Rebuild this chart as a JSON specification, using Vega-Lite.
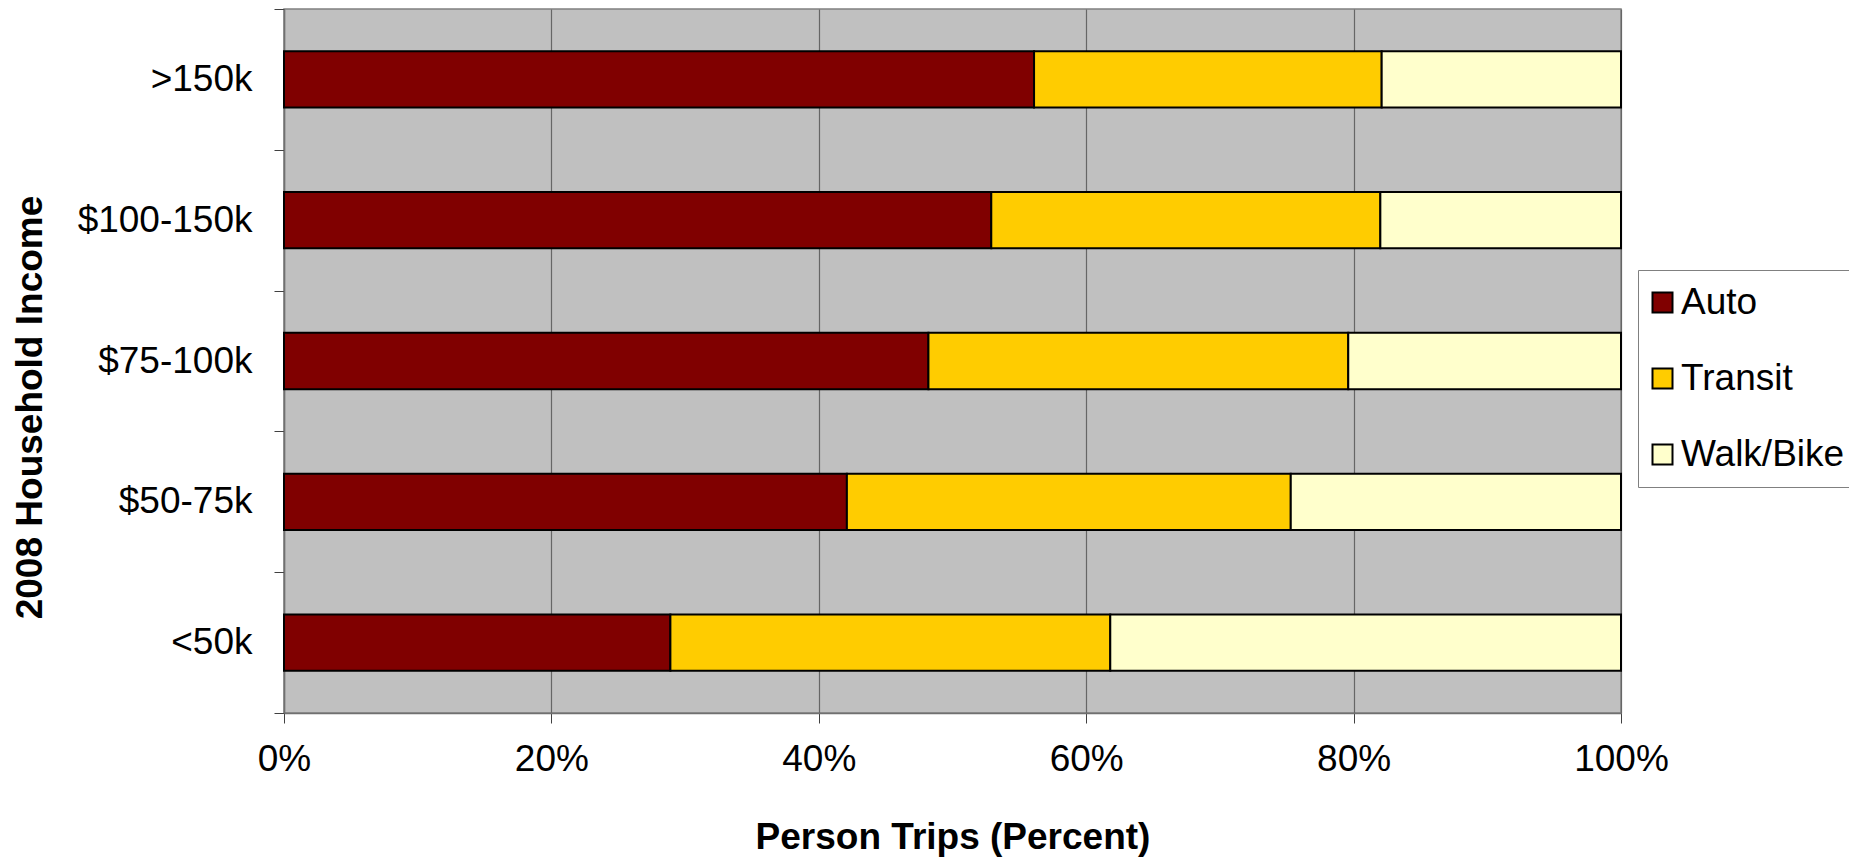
{
  "$schema": "https://vega.github.io/schema/vega-lite/v6.json",
  "autosize": {"type": "none"},
  "width": 1337,
  "height": 704,
  "padding": {"left": 284, "top": 9, "right": 228, "bottom": 145},
  "background": "white",
  "config": {
    "font": "Liberation Sans",
    "view": {"fill": "#C0C0C0", "stroke": "#808080", "strokeWidth": 1.5}
  },
  "data": {
    "values": [
      {"income": ">150k", "mode": "Auto", "pct": 56.1},
      {"income": ">150k", "mode": "Transit", "pct": 26.0},
      {"income": ">150k", "mode": "Walk/Bike", "pct": 17.9},
      {"income": "$100-150k", "mode": "Auto", "pct": 52.9},
      {"income": "$100-150k", "mode": "Transit", "pct": 29.1},
      {"income": "$100-150k", "mode": "Walk/Bike", "pct": 18.0},
      {"income": "$75-100k", "mode": "Auto", "pct": 48.2},
      {"income": "$75-100k", "mode": "Transit", "pct": 31.4},
      {"income": "$75-100k", "mode": "Walk/Bike", "pct": 20.4},
      {"income": "$50-75k", "mode": "Auto", "pct": 42.1},
      {"income": "$50-75k", "mode": "Transit", "pct": 33.2},
      {"income": "$50-75k", "mode": "Walk/Bike", "pct": 24.7},
      {"income": "<50k", "mode": "Auto", "pct": 28.9},
      {"income": "<50k", "mode": "Transit", "pct": 32.9},
      {"income": "<50k", "mode": "Walk/Bike", "pct": 38.2}
    ]
  },
  "mark": {"type": "bar", "stroke": "black", "strokeWidth": 2, "height": {"band": 0.4}},
  "encoding": {
    "y": {
      "field": "income",
      "type": "nominal",
      "sort": [">150k", "$100-150k", "$75-100k", "$50-75k", "<50k"],
      "scale": {"paddingInner": 0, "paddingOuter": 0},
      "axis": {
        "title": "2008 Household Income",
        "titleFontSize": 37,
        "titleFontWeight": "bold",
        "titleColor": "black",
        "titleAngle": -90,
        "titleBaseline": "alphabetic",
        "titleAlign": "center",
        "titleX": -243,
        "titleY": 398,
        "labelFontSize": 37,
        "labelColor": "black",
        "labelPadding": 22,
        "tickSize": 10,
        "tickBand": "extent",
        "tickColor": "#404040",
        "domainColor": "#707070",
        "domainWidth": 1.5,
        "grid": false
      }
    },
    "x": {
      "field": "pct",
      "type": "quantitative",
      "stack": "zero",
      "scale": {"domain": [0, 100], "nice": false},
      "axis": {
        "title": "Person Trips (Percent)",
        "titleFontSize": 37,
        "titleFontWeight": "bold",
        "titleColor": "black",
        "titleBaseline": "alphabetic",
        "titleY": 135,
        "values": [0, 20, 40, 60, 80, 100],
        "labelExpr": "datum.value + '%'",
        "labelFontSize": 37,
        "labelColor": "black",
        "labelPadding": 18,
        "labelFlush": false,
        "tickSize": 10,
        "tickColor": "#404040",
        "domainColor": "#707070",
        "domainWidth": 1.5,
        "grid": true,
        "gridColor": "#666666",
        "gridWidth": 1.2
      }
    },
    "color": {
      "field": "mode",
      "type": "nominal",
      "scale": {
        "domain": ["Auto", "Transit", "Walk/Bike"],
        "range": ["#800000", "#FFCC00", "#FFFFCC"]
      },
      "legend": {
        "title": null,
        "orient": "none",
        "legendX": 1354,
        "legendY": 261,
        "padding": 14,
        "fillColor": "white",
        "strokeColor": "#808080",
        "symbolType": "square",
        "symbolSize": 400,
        "symbolOffset": -8,
        "symbolStrokeColor": "black",
        "symbolStrokeWidth": 2,
        "symbolOpacity": 1,
        "labelFontSize": 37,
        "labelColor": "black",
        "labelOffset": 0,
        "labelLimit": 400,
        "rowPadding": 38
      }
    }
  }
}
